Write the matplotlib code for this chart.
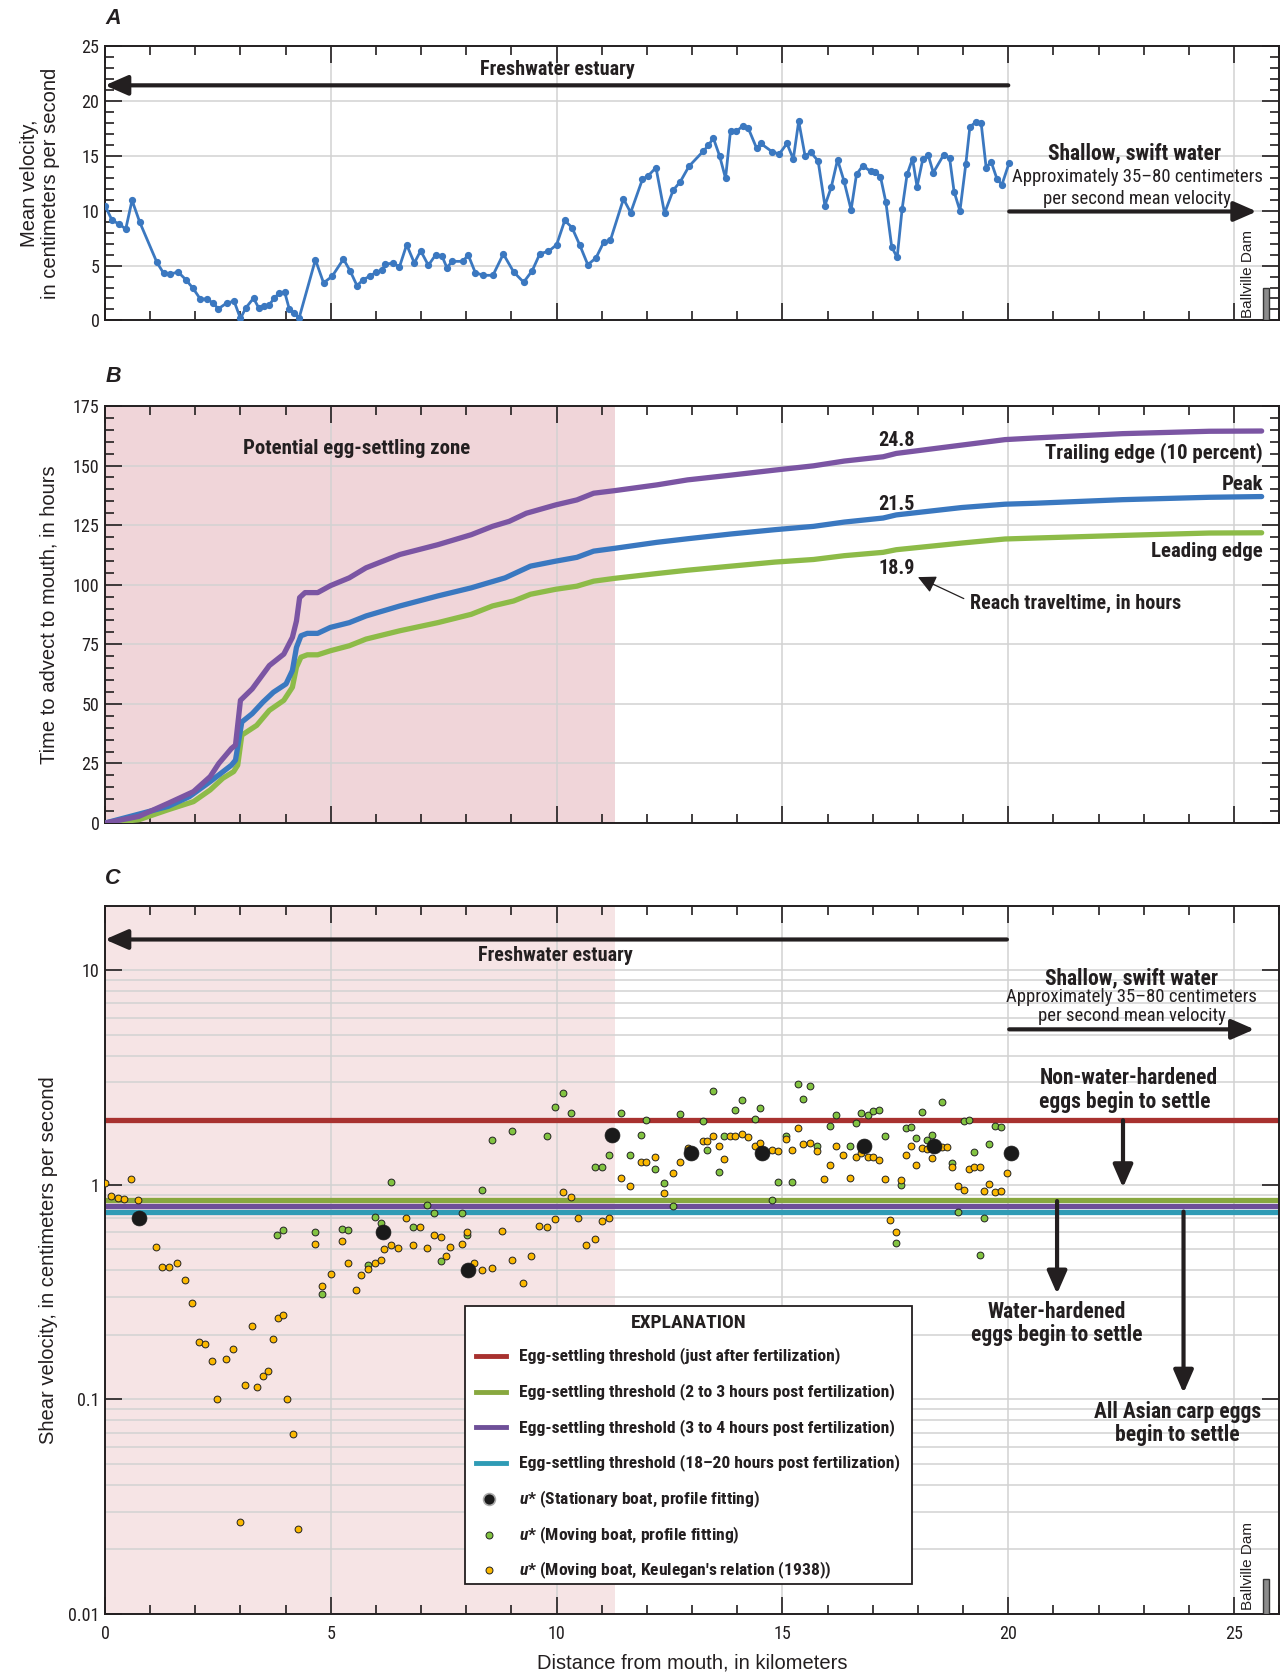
"""
Three stacked panels: mean velocity (A), time to advect to mouth (B),
shear velocity with egg-settling thresholds (C), against distance from mouth.
"""
import matplotlib
matplotlib.use("Agg")
import matplotlib.pyplot as plt
from matplotlib import font_manager as fm
from matplotlib.lines import Line2D
from matplotlib.patches import Rectangle
from matplotlib.ticker import MultipleLocator, FixedLocator, FixedFormatter, LogLocator, NullFormatter


# pick a condensed family if one is installed (labels in the original are condensed)
def _wnum(w):
    if isinstance(w, (int, float)):
        return w
    return fm.weight_dict.get(str(w), 400)


_cond = {}
_names = set()
for _e in fm.fontManager.ttflist:
    _names.add(_e.name)
    if _e.stretch in ("condensed", "semi-condensed", "extra-condensed") \
            or "Narrow" in _e.name or "Condensed" in _e.name:
        _cond.setdefault(_e.name, []).append(_wnum(_e.weight))

COND = None
for cand in ["Liberation Sans Narrow", "Roboto Condensed", "Noto Sans Condensed",
             "Open Sans Condensed", "Noto Sans", "Open Sans", "DejaVu Sans Condensed",
             "DejaVu Sans"] + sorted(_cond):
    if cand in _cond and max(_cond[cand]) >= 600:
        COND = cand
        break
if COND is None:
    COND = "Roboto" if "Roboto" in _names else "Liberation Sans"
    STRETCH, SCALE = "normal", 0.85
else:
    STRETCH, SCALE = "condensed", 1.0
REG_NAME = "Liberation Sans" if "Liberation Sans" in _names else "DejaVu Sans"

CF = [COND, "DejaVu Sans"]
REG = [REG_NAME, "DejaVu Sans"]
plt.rcParams["font.family"] = CF
plt.rcParams["font.stretch"] = STRETCH
plt.rcParams["mathtext.fontset"] = "custom"
plt.rcParams["mathtext.it"] = COND + ":italic:bold"
plt.rcParams["mathtext.rm"] = COND + ":bold"


def cf(size, bold=True):
    return dict(fontfamily=CF, fontstretch=STRETCH, fontsize=size * SCALE,
                fontweight="bold" if bold else "normal")


def rf(size):
    return dict(fontfamily=REG, fontstretch="normal", fontsize=size)


DARK = "#231f20"
GRID = "#d2d2d2"

# ---- panel A: mean velocity, cm/s ----
a_km = [0.00, 0.16, 0.32, 0.46, 0.60, 0.77, 1.15, 1.30, 1.45, 1.62,
        1.79, 1.95, 2.11, 2.25, 2.39, 2.51, 2.70, 2.86, 3.00, 3.12,
        3.29, 3.40, 3.53, 3.63, 3.75, 3.86, 3.98, 4.08, 4.18, 4.30,
        4.66, 4.84, 5.03, 5.28, 5.43, 5.58, 5.72, 5.86, 6.00, 6.14,
        6.20, 6.38, 6.52, 6.68, 6.85, 6.99, 7.16, 7.32, 7.46, 7.57,
        7.69, 7.93, 8.04, 8.20, 8.38, 8.59, 8.82, 9.05, 9.27, 9.46,
        9.63, 9.82, 10.00, 10.18, 10.34, 10.51, 10.69, 10.87, 11.04, 11.19,
        11.48, 11.64, 11.90, 12.03, 12.20, 12.39, 12.58, 12.74, 12.93, 13.25,
        13.36, 13.47, 13.61, 13.74, 13.85, 13.98, 14.12, 14.24, 14.43, 14.52,
        14.77, 14.93, 15.10, 15.24, 15.36, 15.50, 15.63, 15.79, 15.94, 16.08,
        16.22, 16.36, 16.52, 16.64, 16.78, 16.95, 17.06, 17.17, 17.29, 17.42,
        17.54, 17.65, 17.76, 17.88, 17.98, 18.11, 18.23, 18.34, 18.57, 18.70,
        18.80, 18.93, 19.06, 19.15, 19.29, 19.40, 19.51, 19.62, 19.75, 19.86,
        20.02]
a_vel = [10.46, 9.10, 8.77, 8.31, 10.94, 8.95, 5.29, 4.29, 4.23, 4.41,
         3.72, 2.93, 1.96, 1.96, 1.60, 1.06, 1.60, 1.75, 0.18, 1.15,
         2.03, 1.18, 1.33, 1.39, 2.03, 2.51, 2.57, 1.06, 0.70, 0.24,
         5.53, 3.42, 4.02, 5.59, 4.50, 3.17, 3.72, 4.02, 4.38, 4.56,
         5.11, 5.23, 4.87, 6.89, 5.23, 6.35, 5.02, 5.96, 5.89, 4.81,
         5.38, 5.38, 5.99, 4.35, 4.11, 4.11, 6.05, 4.41, 3.48, 4.53,
         6.08, 6.29, 6.89, 9.10, 8.46, 6.89, 5.08, 5.68, 7.10, 7.29,
         11.06, 9.82, 12.85, 13.18, 13.91, 9.76, 11.85, 12.64, 14.03, 15.42,
         15.93, 16.60, 14.96, 12.94, 17.26, 17.20, 17.71, 17.53, 15.66, 16.11,
         15.36, 15.15, 16.11, 14.69, 18.14, 14.99, 15.30, 14.51, 10.46, 12.12,
         14.63, 12.73, 10.07, 13.30, 14.09, 13.57, 13.51, 13.09, 10.76, 6.68,
         5.74, 10.16, 13.30, 14.72, 12.18, 14.72, 15.02, 13.45, 15.08, 14.81,
         11.73, 9.98, 14.24, 17.62, 18.08, 17.93, 13.91, 14.45, 12.88, 12.36,
         14.36]

# ---- panel B: time to advect to mouth, hours ----
trail_km = [0, 0.75, 1.40, 1.96, 2.33, 2.52, 2.80, 2.89, 3.00, 3.26, 3.64, 3.96, 4.15, 4.24,
            4.31, 4.43, 4.71, 4.99, 5.41, 5.78, 6.53, 7.37, 8.11, 8.58, 8.95, 9.33, 9.98,
            10.45, 10.82, 11.29, 12.22, 12.90, 13.86, 14.83, 15.69, 16.37, 17.23, 17.52,
            18.97, 19.93, 20.60, 22.53, 24.45, 25.61]
trail_hr = [0, 2.8, 8.3, 13.2, 19.5, 25.0, 31.3, 32.7, 51.5, 56.3, 66.1, 70.9, 77.9, 84.8,
            94.6, 96.7, 96.7, 99.6, 102.9, 107.1, 112.7, 116.8, 121.0, 124.5, 126.6, 130.0, 133.5,
            135.6, 138.4, 139.5, 141.9, 144.0, 146.0, 148.1, 149.9, 151.9, 153.7, 155.1,
            158.6, 160.9, 161.6, 163.4, 164.4, 164.5]
peak_km = [0, 1.40, 1.87, 2.33, 2.80, 2.89, 3.03, 3.26, 3.50, 3.73, 4.01, 4.15, 4.24, 4.34,
           4.48, 4.71, 4.99, 5.41, 5.78, 6.53, 7.37, 8.11, 8.86, 9.42, 9.98, 10.45, 10.82,
           11.29, 12.22, 12.90, 13.86, 14.83, 15.69, 16.37, 17.23, 17.52, 18.97, 19.93,
           20.60, 22.53, 24.45, 25.61]
peak_hr = [0, 7.0, 11.1, 17.4, 24.3, 26.4, 42.4, 45.9, 50.8, 54.9, 58.4, 64.0, 73.7, 78.6,
           79.6, 79.6, 82.1, 84.1, 86.9, 91.1, 95.3, 98.7, 102.9, 107.8, 109.9, 111.5, 114.1,
           115.3, 117.8, 119.3, 121.3, 123.1, 124.5, 126.3, 128.0, 129.3, 132.4, 133.8,
           134.2, 135.7, 136.7, 137.0]
lead_km = [0, 0.75, 1.40, 1.96, 2.33, 2.61, 2.85, 2.94, 3.03, 3.36, 3.64, 3.96, 4.15, 4.24,
           4.34, 4.48, 4.71, 4.99, 5.41, 5.78, 6.53, 7.37, 8.11, 8.58, 9.05, 9.42, 9.98,
           10.45, 10.82, 11.29, 12.22, 12.90, 13.86, 14.83, 15.69, 16.37, 17.23, 17.52,
           18.97, 19.93, 20.60, 22.53, 24.45, 25.61]
lead_hr = [0, 1.4, 5.6, 9.0, 13.9, 18.8, 21.6, 24.3, 36.9, 41.0, 47.3, 51.5, 57.0, 65.4,
           69.6, 70.6, 70.6, 72.3, 74.4, 77.2, 80.7, 84.1, 87.6, 91.1, 93.2, 96.0, 98.1,
           99.4, 101.5, 102.7, 104.7, 106.1, 107.8, 109.5, 110.6, 112.2, 113.6, 114.7,
           117.5, 119.2, 119.6, 120.7, 121.7, 121.8]

# ---- panel C: shear velocity, cm/s ----
thresholds = [2.0, 0.85, 0.80, 0.75]
threshold_labels = ["Egg-settling threshold (just after fertilization)",
                    "Egg-settling threshold (2 to 3 hours post fertilization)",
                    "Egg-settling threshold (3 to 4 hours post fertilization)",
                    "Egg-settling threshold (18\u201320 hours post fertilization)"]
threshold_colors = ["#a8312f", "#88a83f", "#6e4f98", "#2f9bb5"]
point_labels = ["$u$* (Stationary boat, profile fitting)",
                "$u$* (Moving boat, profile fitting)",
                "$u$* (Moving boat, Keulegan's relation (1938))"]

stat_km = [0.75, 6.16, 8.04, 11.22, 12.98, 14.55, 16.80, 18.35, 20.05]
stat_u = [0.70, 0.60, 0.40, 1.70, 1.40, 1.40, 1.51, 1.51, 1.40]

prof_km = [3.82, 3.94, 4.65, 4.80, 5.24, 5.39, 5.83, 5.97, 6.11, 6.33,
           6.82, 7.12, 7.29, 7.43, 7.90, 8.01, 8.35, 8.56, 9.01, 9.79,
           9.97, 10.15, 10.31, 10.84, 11.01, 11.15, 11.43, 11.62, 11.87, 11.98,
           12.17, 12.38, 12.58, 12.73, 12.90, 13.24, 13.34, 13.46, 13.60, 13.71,
           13.96, 14.10, 14.40, 14.50, 14.76, 14.91, 15.08, 15.21, 15.34, 15.46,
           15.62, 15.77, 16.05, 16.19, 16.49, 16.62, 16.75, 16.90, 17.01, 17.13,
           17.26, 17.51, 17.62, 17.73, 17.85, 17.96, 18.08, 18.19, 18.31, 18.54,
           18.76, 18.88, 19.01, 19.13, 19.23, 19.37, 19.46, 19.57, 19.70, 19.83]
prof_u = [0.585, 0.613, 0.602, 0.311, 0.624, 0.613, 0.425, 0.705, 0.663, 1.025,
          0.633, 0.804, 0.736, 0.443, 0.736, 0.585, 0.944, 1.62, 1.78, 1.68,
          2.31, 2.67, 2.16, 1.21, 1.21, 1.37, 2.17, 1.37, 1.70, 2.00,
          1.19, 1.02, 0.796, 2.13, 1.47, 1.99, 1.45, 2.73, 1.15, 1.69,
          2.23, 2.48, 2.02, 2.29, 0.851, 1.03, 1.68, 1.03, 2.95, 2.51,
          2.89, 1.52, 1.87, 2.12, 1.52, 1.93, 2.17, 2.11, 2.20, 2.23,
          1.69, 0.533, 0.995, 1.84, 1.85, 1.65, 2.19, 1.62, 1.70, 2.44,
          1.26, 0.743, 1.99, 2.00, 1.42, 0.471, 0.703, 1.55, 1.87, 1.85]

keul_km = [0.00, 0.13, 0.28, 0.43, 0.57, 0.73, 1.13, 1.27, 1.42, 1.59,
           1.77, 1.93, 2.08, 2.22, 2.36, 2.47, 2.68, 2.83, 2.98, 3.10,
           3.26, 3.36, 3.50, 3.61, 3.72, 3.83, 3.94, 4.03, 4.16, 4.28,
           4.65, 4.81, 5.01, 5.24, 5.39, 5.56, 5.68, 5.83, 5.97, 6.11,
           6.17, 6.33, 6.49, 6.66, 6.82, 6.97, 7.12, 7.29, 7.43, 7.54,
           7.65, 7.90, 8.01, 8.18, 8.35, 8.56, 8.78, 9.01, 9.25, 9.44,
           9.61, 9.79, 9.97, 10.15, 10.31, 10.48, 10.66, 10.84, 11.01, 11.15,
           11.43, 11.62, 11.87, 11.98, 12.17, 12.38, 12.58, 12.73, 12.90, 13.24,
           13.34, 13.46, 13.60, 13.71, 13.83, 13.96, 14.10, 14.23, 14.40, 14.50,
           14.76, 14.91, 15.08, 15.21, 15.34, 15.46, 15.62, 15.77, 15.91, 16.05,
           16.19, 16.34, 16.49, 16.62, 16.75, 16.90, 17.01, 17.13, 17.26, 17.39,
           17.51, 17.62, 17.73, 17.85, 17.96, 18.08, 18.19, 18.31, 18.54, 18.65,
           18.76, 18.88, 19.01, 19.13, 19.23, 19.37, 19.46, 19.57, 19.70, 19.83,
           19.97]
keul_u = [1.02, 0.889, 0.867, 0.858, 1.06, 0.852, 0.515, 0.414, 0.414, 0.431,
          0.359, 0.282, 0.185, 0.181, 0.151, 0.100, 0.154, 0.171, 0.0268, 0.117,
          0.220, 0.114, 0.129, 0.136, 0.191, 0.239, 0.247, 0.100, 0.0687, 0.0248,
          0.530, 0.338, 0.384, 0.549, 0.431, 0.325, 0.381, 0.405, 0.432, 0.445,
          0.500, 0.526, 0.506, 0.700, 0.522, 0.633, 0.507, 0.585, 0.573, 0.464,
          0.513, 0.530, 0.600, 0.432, 0.400, 0.408, 0.611, 0.448, 0.349, 0.464,
          0.640, 0.636, 0.692, 0.921, 0.877, 0.703, 0.522, 0.561, 0.680, 0.703,
          1.07, 0.989, 1.27, 1.28, 1.34, 0.915, 1.14, 1.27, 1.48, 1.60,
          1.60, 1.68, 1.51, 1.32, 1.69, 1.69, 1.73, 1.67, 1.52, 1.56,
          1.45, 1.44, 1.63, 1.45, 1.83, 1.55, 1.56, 1.44, 1.06, 1.23,
          1.52, 1.37, 1.07, 1.35, 1.40, 1.35, 1.35, 1.30, 1.06, 0.687,
          0.604, 1.05, 1.37, 1.51, 1.24, 1.48, 1.46, 1.33, 1.50, 1.50,
          1.21, 0.982, 0.948, 1.19, 1.21, 1.21, 0.938, 1.01, 0.921, 0.938,
          1.14]

settle_zone_end = 11.29
dam_km = 25.64


def style_axis(ax):
    ax.set_xlim(0, 26)
    ax.xaxis.set_major_locator(MultipleLocator(5))
    ax.xaxis.set_minor_locator(MultipleLocator(1))
    ax.tick_params(which="both", direction="in", top=True, right=True,
                   color=DARK, width=1.2, labelsize=13 * SCALE, labelcolor=DARK)
    ax.tick_params(which="major", length=12.5)
    ax.tick_params(which="minor", length=6.5)
    ax.tick_params(axis="y", pad=4)
    ax.tick_params(axis="x", pad=8)
    for sp in ax.spines.values():
        sp.set_linewidth(1.4)
        sp.set_color(DARK)
    ax.grid(which="major", color=GRID, lw=1.1)
    ax.set_axisbelow(True)


def arrow(ax, x0, y0, x1, y1, lw=3.0):
    ax.annotate("", xy=(x1, y1), xytext=(x0, y0),
                arrowprops=dict(arrowstyle="-|>,head_length=0.55,head_width=0.24",
                                lw=lw, color=DARK, shrinkA=0, shrinkB=0,
                                mutation_scale=25), zorder=6)


fig = plt.figure(figsize=(12.83, 16.77), dpi=100)
axA = fig.add_axes([0.0818, 0.8089, 0.9153, 0.1638])
axB = fig.add_axes([0.0818, 0.5092, 0.9153, 0.2487])
axC = fig.add_axes([0.0818, 0.0376, 0.9153, 0.4224])

# ---------------- A ----------------
style_axis(axA)
axA.set_ylim(0, 25)
axA.yaxis.set_major_locator(MultipleLocator(5))
axA.yaxis.set_minor_locator(MultipleLocator(1))
axA.tick_params(labelbottom=False)
axA.plot(a_km, a_vel, color="#3b78c0", lw=2.0, marker="o", ms=4.2, zorder=3)
arrow(axA, 20, 21.4, 0, 21.4)
axA.text(10.02, 22.8, "Freshwater estuary", ha="center", va="center", color=DARK, **cf(14.5))
axA.text(22.8, 15.2, "Shallow, swift water", ha="center", va="center", color=DARK, **cf(15.5))
axA.text(22.85, 13.1, "Approximately 35\u201380 centimeters", ha="center", va="center",
         color=DARK, **cf(13.5, bold=False))
axA.text(22.85, 11.06, "per second mean velocity", ha="center", va="center",
         color=DARK, **cf(13.5, bold=False))
arrow(axA, 20.02, 9.92, 25.5, 9.92)
axA.text(25.31, 0.25, "Ballville Dam", rotation=90, ha="center", va="bottom",
         color=DARK, **rf(11))
axA.add_patch(Rectangle((dam_km, 0), 0.14, 3.0, fc="#8c8c8c", ec="#333333", lw=1, zorder=4))
axA.text(-0.0555, 0.5, "Mean velocity,\nin centimeters per second", transform=axA.transAxes,
         rotation=90, ha="center", va="center", linespacing=1.15, color=DARK, **rf(14.5))

# ---------------- B ----------------
style_axis(axB)
axB.set_ylim(0, 175)
axB.yaxis.set_major_locator(MultipleLocator(25))
axB.yaxis.set_minor_locator(MultipleLocator(5))
axB.tick_params(labelbottom=False)
axB.axvspan(0, settle_zone_end, color="#f0d5d9", lw=0, zorder=0)
axB.plot(lead_km, lead_hr, color="#8dbb48", lw=3.8, solid_capstyle="round", zorder=3)
axB.plot(peak_km, peak_hr, color="#3a78c0", lw=3.8, solid_capstyle="round", zorder=3)
axB.plot(trail_km, trail_hr, color="#7b55a3", lw=3.8, solid_capstyle="round", zorder=3)
axB.text(5.57, 157.2, "Potential egg-settling zone", ha="center", va="center",
         color=DARK, **cf(15))
for yv, s in [(160.6, "24.8"), (133.5, "21.5"), (107.0, "18.9")]:
    axB.text(17.52, yv, s, ha="center", va="center", color=DARK, **cf(14.5))
axB.text(25.64, 155.5, "Trailing edge (10 percent)", ha="right", va="center", color=DARK, **cf(15))
axB.text(25.64, 142.1, "Peak", ha="right", va="center", color=DARK, **cf(15))
axB.text(25.64, 113.8, "Leading edge", ha="right", va="center", color=DARK, **cf(15))
axB.annotate("Reach traveltime, in hours", xy=(18.0, 103.2), xytext=(19.16, 92.1),
             ha="left", va="center", color=DARK, **cf(14.5),
             arrowprops=dict(arrowstyle="-|>,head_length=0.6,head_width=0.3", lw=0.9,
                             color=DARK, shrinkA=3, shrinkB=0, relpos=(0, 0.6),
                             mutation_scale=18))
axB.text(-0.0477, 0.5, "Time to advect to mouth, in hours", transform=axB.transAxes,
         rotation=90, ha="center", va="center", color=DARK, **rf(14.5))

# ---------------- C ----------------
style_axis(axC)
axC.set_yscale("log")
axC.set_ylim(0.01, 20)
axC.yaxis.set_major_locator(FixedLocator([0.01, 0.1, 1, 10]))
axC.yaxis.set_major_formatter(FixedFormatter(["0.01", "0.1", "1", "10"]))
axC.yaxis.set_minor_locator(LogLocator(base=10, subs=range(2, 10), numticks=20))
axC.yaxis.set_minor_formatter(NullFormatter())
axC.tick_params(axis="y", which="minor", length=0)
axC.grid(which="minor", axis="y", color=GRID, lw=1.1)
axC.axvspan(0, settle_zone_end, color="#f6e4e5", lw=0, zorder=0)

for yv, col in zip(thresholds, threshold_colors):
    axC.axhline(yv, color=col, lw=3.8, zorder=2)

axC.scatter(prof_km, prof_u, s=24, c="#82c341", edgecolors="#222222", linewidths=0.7, zorder=4)
axC.scatter(keul_km, keul_u, s=24, c="#fbb800", edgecolors="#222222", linewidths=0.7, zorder=4)
axC.scatter(stat_km, stat_u, s=115, c="#1a1a1a", edgecolors="#1a1a1a", linewidths=0.5, zorder=5)

arrow(axC, 19.97, 13.9, 0, 13.9)
axC.text(9.98, 11.7, "Freshwater estuary", ha="center", va="center", color=DARK, **cf(14.5))
axC.text(22.73, 9.15, "Shallow, swift water", ha="center", va="center", color=DARK, **cf(15.5))
axC.text(22.73, 7.5, "Approximately 35\u201380 centimeters", ha="center", va="center",
         color=DARK, **cf(13.5, bold=False))
axC.text(22.73, 6.13, "per second mean velocity", ha="center", va="center",
         color=DARK, **cf(13.5, bold=False))
arrow(axC, 20.02, 5.3, 25.45, 5.3)

axC.text(20.69, 3.14, "Non-water-hardened", ha="left", va="center", color=DARK, **cf(15.5))
axC.text(20.69, 2.44, "eggs begin to settle", ha="left", va="center", color=DARK, **cf(15.5))
arrow(axC, 22.54, 2.0, 22.54, 0.97)

arrow(axC, 21.08, 0.84, 21.08, 0.31)
axC.text(21.08, 0.255, "Water-hardened", ha="center", va="center", color=DARK, **cf(15.5))
axC.text(21.08, 0.199, "eggs begin to settle", ha="center", va="center", color=DARK, **cf(15.5))

arrow(axC, 23.88, 0.75, 23.88, 0.107)
axC.text(23.75, 0.0872, "All Asian carp eggs", ha="center", va="center", color=DARK, **cf(15.5))
axC.text(23.75, 0.0684, "begin to settle", ha="center", va="center", color=DARK, **cf(15.5))

axC.text(25.31, 0.0104, "Ballville Dam", rotation=90, ha="center", va="bottom",
         color=DARK, **rf(11))
axC.add_patch(Rectangle((dam_km, 0.01), 0.14, 0.0045, fc="#8c8c8c", ec="#333333", lw=1, zorder=4))

axC.text(-0.0477, 0.5, "Shear velocity, in centimeters per second", transform=axC.transAxes,
         rotation=90, ha="center", va="center", color=DARK, **rf(14.5))

# explanation box, laid out by hand in axes fractions
T = axC.transAxes
axC.add_patch(Rectangle((0.3066, 0.0423), 0.3806, 0.3924, transform=T, fc="white",
                        ec=DARK, lw=1.3, zorder=9))
axC.text(0.4967, 0.4103, "EXPLANATION", transform=T, ha="center", va="center",
         color=DARK, zorder=10, **cf(14))
row_y = [0.3641, 0.3138, 0.2635, 0.2135, 0.1619, 0.1115, 0.0621]
for yv, col, lab in zip(row_y[:4], threshold_colors, threshold_labels):
    axC.add_line(Line2D([0.3159, 0.3415], [yv, yv], transform=T, color=col, lw=3.5,
                        zorder=10, clip_on=False))
    axC.text(0.3528, yv, lab, transform=T, ha="left", va="center", color=DARK,
             zorder=10, **cf(12.6))
point_styles = [dict(ms=8.5, mfc="#1a1a1a", mec="#aaaaaa", mew=1.2),
                dict(ms=5, mfc="#82c341", mec="#222222", mew=0.7),
                dict(ms=5, mfc="#fbb800", mec="#222222", mew=0.7)]
for yv, st, lab in zip(row_y[4:], point_styles, point_labels):
    axC.add_line(Line2D([0.3268], [yv], transform=T, ls="none", marker="o",
                        zorder=10, clip_on=False, **st))
    axC.text(0.3528, yv, lab, transform=T, ha="left", va="center", color=DARK,
             zorder=10, **cf(12.6))

fig.text(692 / 1283, 1 - 1663 / 1677, "Distance from mouth, in kilometers", ha="center",
         va="center", color=DARK, **rf(14.5))

for lab, ypix in [("A", 18.5), ("B", 376), ("C", 879)]:
    fig.text(113 / 1283, 1 - ypix / 1677, lab, ha="center", va="center",
             weight="bold", style="italic", color=DARK, **rf(15.5))

fig.savefig("out.png", dpi=100)
plt.close(fig)
